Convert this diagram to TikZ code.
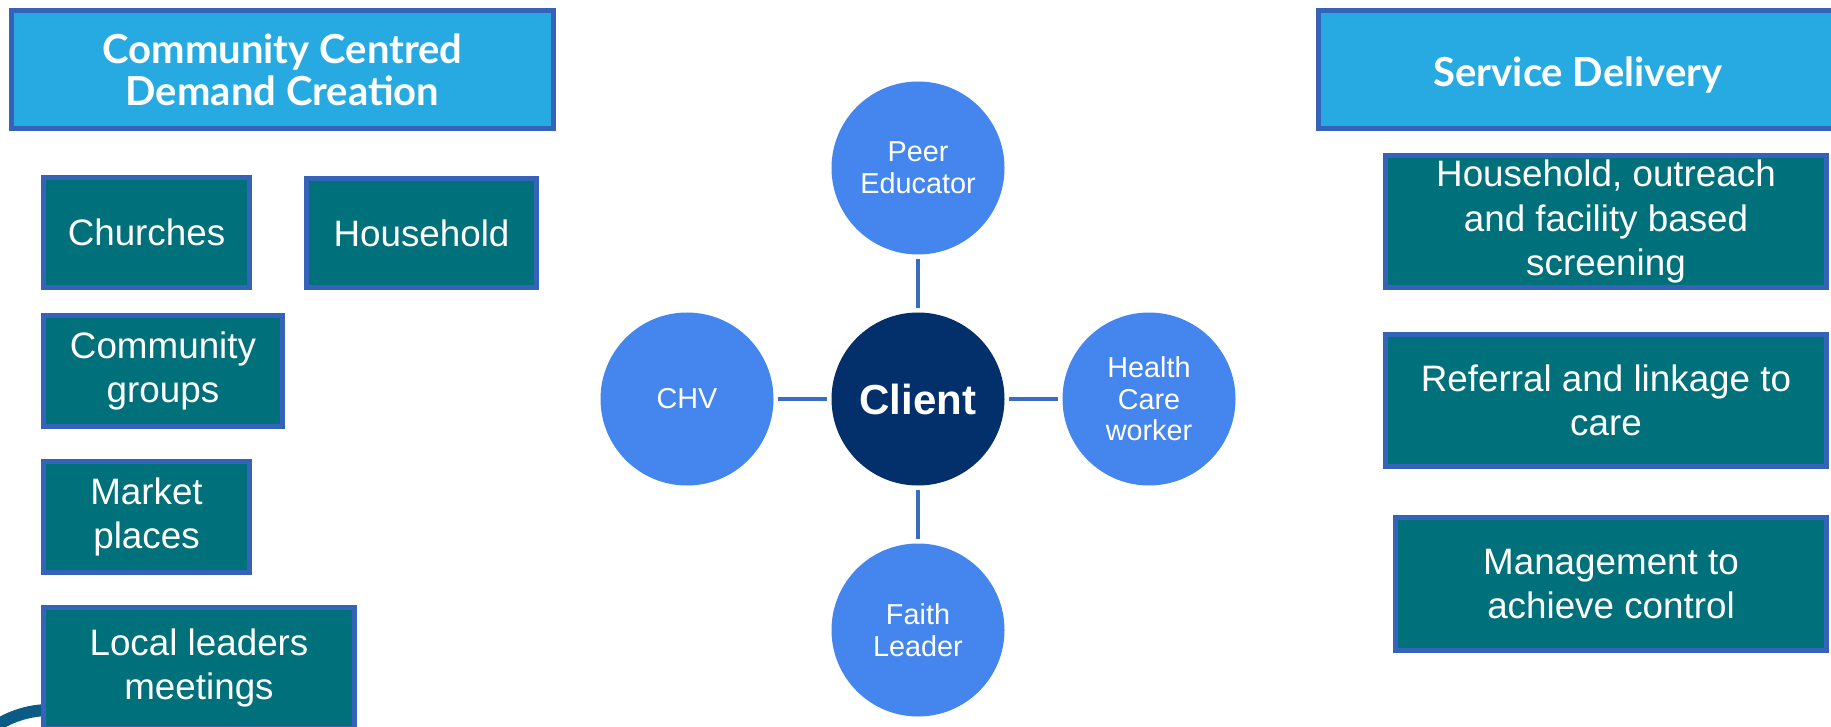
\documentclass[tikz,border=0pt]{standalone}
\usepackage{fontspec}
\setmainfont{Liberation Sans}
\newfontfamily\headfont{Lato}
\usepackage{tikz}
\usetikzlibrary{positioning}
\definecolor{headblue}{RGB}{39,170,225}
\definecolor{edgeblue}{RGB}{52,99,185}
\definecolor{boxteal}{RGB}{0,112,122}
\definecolor{circblue}{RGB}{68,134,238}
\definecolor{clientblue}{RGB}{3,47,106}
\definecolor{lineblue}{RGB}{58,108,196}
\definecolor{ringblue}{RGB}{11,91,135}

\begin{document}
\begin{tikzpicture}[x=0.5pt,y=-0.5pt]
\tikzstyle{head}=[rectangle, draw=edgeblue, line width=2.5pt, fill=headblue, text=white, align=center, inner sep=0pt, font=\headfont\bfseries\fontsize{20pt}{21pt}\selectfont]
\tikzstyle{box}=[rectangle, draw=edgeblue, line width=2.5pt, fill=boxteal, text=white, align=center, inner sep=0pt, font=\fontsize{18.4pt}{22.3pt}\selectfont]
\tikzstyle{main}=[circle, minimum size=86.5pt, inner sep=0pt, fill=circblue, text=white, align=center, font=\fontsize{14.4pt}{15.8pt}\selectfont, node distance=115.5pt]
\tikzstyle{connect}=[line width=2.2pt, draw=lineblue, shorten >=2pt, shorten <=2pt]
  \useasboundingbox (0,0) rectangle (1831,727);
  \draw[line width=6pt, draw=ringblue] (50,810) circle[radius=50pt];

  \node[head, minimum width=271pt, minimum height=59pt] (demand) at (282.5,69.5) {Community Centred\\Demand Creation};
  \node[box, minimum width=103pt, minimum height=55pt] (churches) at (146.5,232.5) {Churches};
  \node[box, minimum width=115pt, minimum height=54.5pt] (household) at (421.5,233) {Household};
  \node[box, minimum width=119.5pt, minimum height=55.5pt] (groups) at (163,371) {Community\\groups};
  \node[box, minimum width=103pt, minimum height=55.5pt] (market) at (146.5,517) {Market\\places};
  \node[box, minimum width=155.5pt, minimum height=60.5pt] (leaders) at (199,668) {Local leaders\\meetings};

  \node[main, fill=clientblue, font=\bfseries\fontsize{21pt}{24pt}\selectfont] (client) at (918,399) {Client};
  \node[main] (peer) [above of=client] {Peer\\Educator};
  \node[main] (chv) [left of=client] {CHV};
  \node[main] (hcw) [right of=client] {Health\\Care\\worker};
  \node[main] (faith) [below of=client] {Faith\\Leader};

  \node[head, minimum width=259.5pt, minimum height=59pt] (service) at (1578,69.5) {\raisebox{-2.5pt}[\height][\depth]{Service Delivery}};
  \node[box, minimum width=220.5pt, minimum height=66pt] (screening) at (1606,221.5) {Household, outreach\\and facility based\\screening};
  \node[box, minimum width=220.5pt, minimum height=66pt] (referral) at (1606,400.5) {Referral and linkage to\\care};
  \node[box, minimum width=215.5pt, minimum height=66.5pt] (manage) at (1611,584) {Management to\\achieve control};

  \path (client) edge [connect] (peer)
        (client) edge [connect] (chv)
        (client) edge [connect] (hcw)
        (client) edge [connect] (faith);
\end{tikzpicture}
\end{document}
